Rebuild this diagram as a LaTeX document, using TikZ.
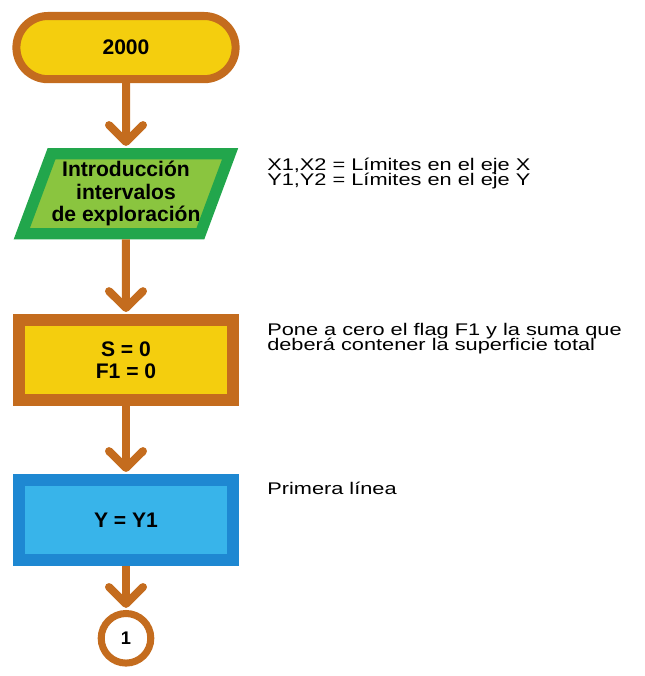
\documentclass[tikz,border=0pt]{standalone}
\usepackage{fontspec}
\setmainfont{Liberation Sans}
\newfontfamily\notefont[FakeStretch=1.29]{Liberation Sans}
\usetikzlibrary{arrows.meta,positioning,shapes.geometric}
\definecolor{ochre}{HTML}{C46C1E}
\definecolor{sun}{HTML}{F4CE0E}
\definecolor{leaf}{HTML}{22A64C}
\definecolor{lime}{HTML}{8AC53F}
\definecolor{sea}{HTML}{1E88D2}
\definecolor{sky}{HTML}{38B4EA}
\newcommand\tightlines{\lineskiplimit=-100pt\relax}
\begin{document}
\begin{tikzpicture}[>=Latex, node distance=1.7cm]
        \tikzset{boxtext/.style={align=center, font=\bfseries\fontsize{15}{15.8}\selectfont}, term/.style={boxtext, rectangle, rounded corners=0.79cm, draw=ochre, line width=5.7pt, fill=sun, minimum width=5.48cm, minimum height=1.58cm}, inout/.style={boxtext, trapezium, trapezium left angle=68, trapezium right angle=112, trapezium stretches=true, draw=leaf, line width=8pt, fill=lime, inner xsep=0pt, minimum width=5.1cm, minimum height=2.0cm}, proc/.style={boxtext, rectangle, line width=8.5pt, minimum width=5.35cm, minimum height=2.0cm}, link/.style={circle, draw=ochre, line width=5pt, fill=white, minimum size=1.24cm, inner sep=0pt, font=\bfseries\fontsize{13}{13}\selectfont}, flow/.style={draw=ochre, line width=0.2cm, -{Straight Barb[round, length=0.42cm, width=0.85cm]}, shorten >=1.5pt}, note/.style={anchor=base west, align=left, inner sep=0pt, font=\notefont\fontsize{12}{10.8}\selectfont\tightlines}}
        \useasboundingbox (0,0) rectangle (16.1,-16.9);
        \node[term] (start) at (3.15,-1.19) {2000};
        \node[inout, below=1.62cm of start] (intro) {Introducción\\intervalos\\de exploración};
        \node[proc, draw=ochre, fill=sun, below=1.87cm of intro] (init) {S = 0\\F1 = 0};
        \node[proc, draw=sea, fill=sky, below=1.7cm of init] (line) {Y = Y1};
        \node[link, below=1.1cm of line] (conn) {1};
        \node[note] (limits) at (6.675,-4.63) {X1,X2 = Límites en el eje X\\Y1,Y2 = Límites en el eje Y};
        \node[note] (zero) at (6.675,-8.76) {Pone a cero el flag F1 y la suma que\\deberá contener la superficie total};
        \node[note] (first) at (6.675,-12.36) {Primera línea};
        \draw[flow] (start) -- (intro);
        \draw[flow] (intro) -- (init);
        \draw[flow] (init) -- (line);
        \draw[flow] (line) -- (conn);
    \end{tikzpicture}
\end{document}
